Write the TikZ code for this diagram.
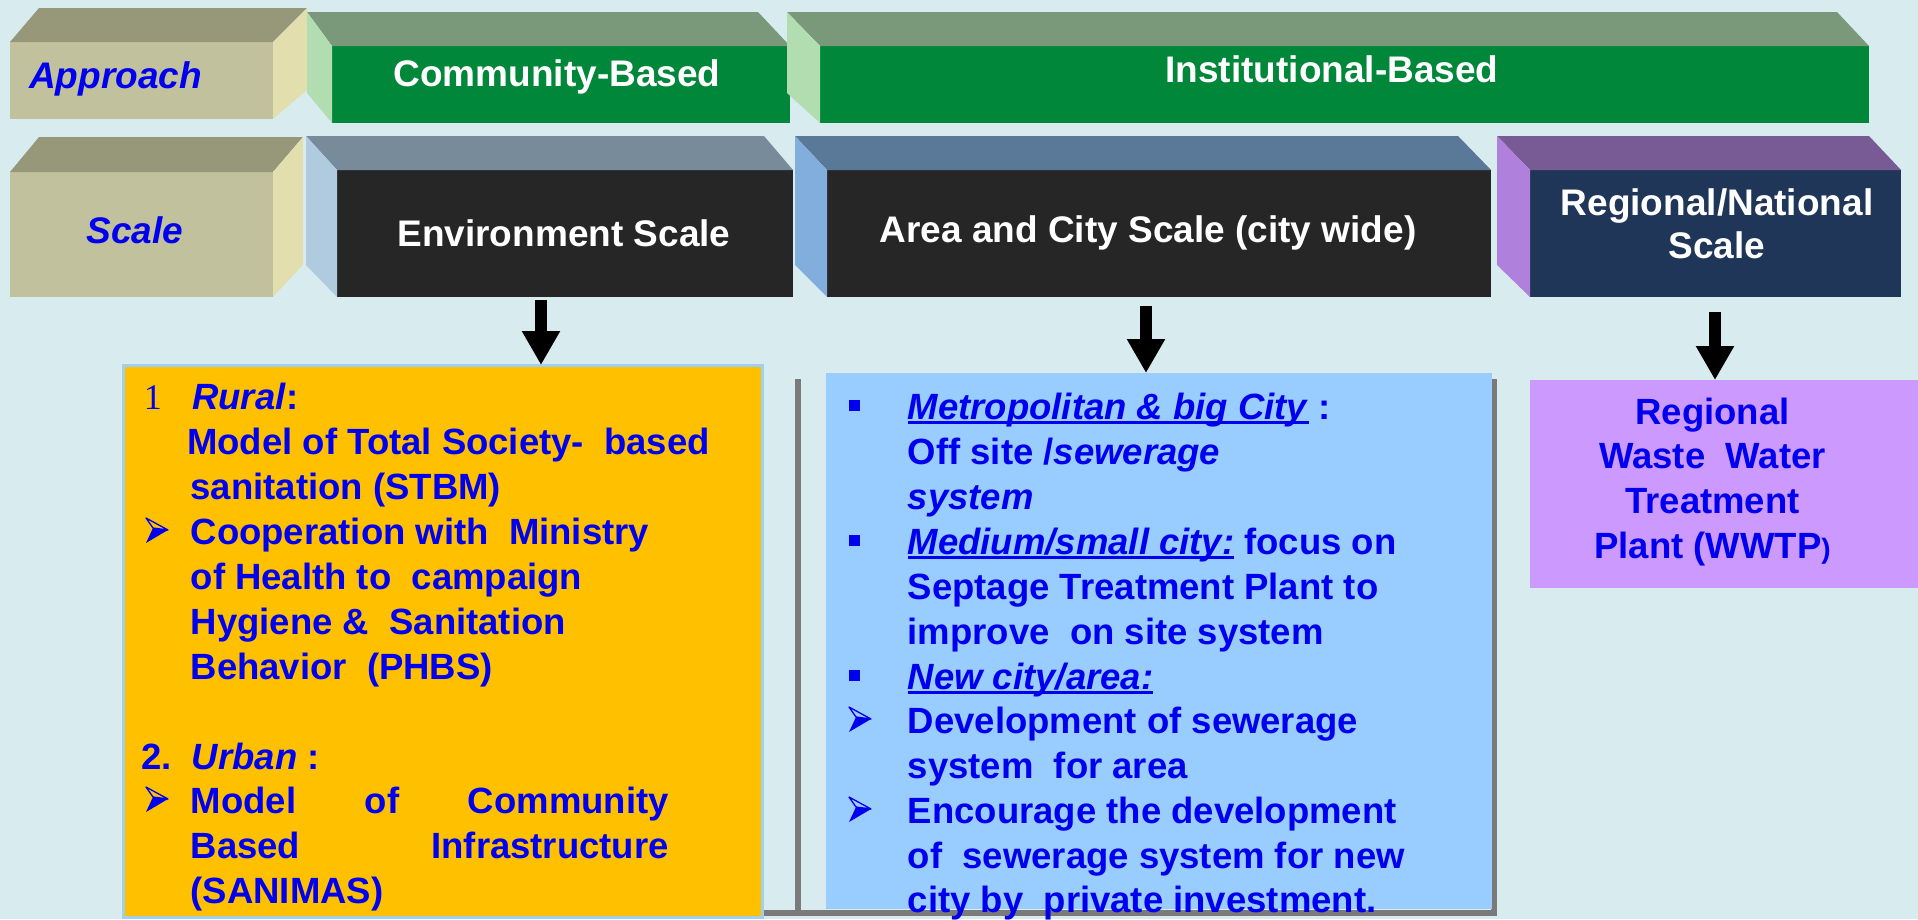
\documentclass[tikz,border=0pt]{standalone}
\usepackage{fontspec}
\setmainfont{Liberation Sans}
\newfontfamily\serifone{Liberation Serif}
\usetikzlibrary{arrows.meta}
\definecolor{bgc}{RGB}{216,236,240}
\definecolor{txtblue}{RGB}{0,0,238}
\definecolor{olvF}{RGB}{194,193,157}
\definecolor{olvT}{RGB}{151,151,122}
\definecolor{olvS}{RGB}{226,222,174}
\definecolor{grnF}{RGB}{0,135,58}
\definecolor{grnT}{RGB}{122,152,122}
\definecolor{grnS}{RGB}{178,221,176}
\definecolor{drkF}{RGB}{38,38,38}
\definecolor{envT}{RGB}{120,139,154}
\definecolor{envS}{RGB}{176,202,223}
\definecolor{areaT}{RGB}{90,120,151}
\definecolor{areaS}{RGB}{130,174,221}
\definecolor{regF}{RGB}{31,54,88}
\definecolor{regT}{RGB}{120,90,149}
\definecolor{regS}{RGB}{176,128,221}
\definecolor{orgF}{RGB}{255,192,0}
\definecolor{bluF}{RGB}{153,204,255}
\definecolor{purF}{RGB}{204,153,255}
\definecolor{shd}{RGB}{122,122,122}
\definecolor{orgB}{RGB}{160,208,240}
\newsavebox\ulbox
\newcommand\myul[1]{\sbox\ulbox{#1}\rlap{\rule[-5pt]{\wd\ulbox}{3pt}}\usebox\ulbox}
\newcommand\hdfont{\fontsize{37}{44}\selectfont\bfseries}
\newcommand\bdfont{\fontsize{36.5}{45}\selectfont\bfseries}
\tikzset{
  face/.style={inner sep=0pt, outer sep=0pt, anchor=north west, draw=none},
  hdw/.style={font=\hdfont, text=white, inner sep=0pt, anchor=base},
  hdb/.style={font=\hdfont\itshape, text=txtblue, inner sep=0pt},
  ln/.style={font=\bdfont, text=txtblue, inner sep=0pt, anchor=base west},
  lnc/.style={font=\bdfont, text=txtblue, inner sep=0pt, anchor=base},
  bigarrow/.style={draw=black, line width=12pt, -{Triangle[width=36pt,length=34pt]}},
  arrbul/.pic={
    \fill[txtblue] (7,10) -- (22,12) -- (0,25) -- cycle;
    \draw[txtblue, line width=1.3pt, line join=round] (0,0) -- (22,12) -- (7,10) -- cycle;
  },
  sqbul/.style={fill=txtblue, draw=none}
}
\begin{document}
\begin{tikzpicture}[x=1pt,y=-1pt]
\useasboundingbox (0,0) rectangle (1918,919);
\fill[bgc] (0,0) rectangle (1918,919);

% ---------- Approach box ----------
\node[face, fill=olvF, minimum width=263pt, minimum height=77pt] (apF) at (10,42) {};
\fill[olvT] (10,42) -- (39,8) -- (307,8) -- (273,42) -- cycle;
\fill[olvS] (273,42) -- (307,8) -- (307,90) -- (273,119) -- cycle;
\node[hdb, anchor=base west] (apT) at (29,88) {Approach};

% ---------- Scale box ----------
\node[face, fill=olvF, minimum width=263pt, minimum height=125pt] (scF) at (10,172) {};
\fill[olvT] (10,172) -- (39,137) -- (303,137) -- (273,172) -- cycle;
\fill[olvS] (273,172) -- (303,137) -- (303,265) -- (273,297) -- cycle;
\node[hdb, anchor=base] (scT) at (135,243) {Scale};

% ---------- Community-Based ----------
\node[face, fill=grnF, minimum width=458pt, minimum height=77pt] (cbF) at (332,46) {};
\fill[grnT] (332,46) -- (307,12) -- (758,12) -- (790,46) -- cycle;
\fill[grnS] (307,12) -- (332,46) -- (332,123) -- (307,93) -- cycle;
\node[hdw] (cbT) at (557,86) {Community-Based};

% ---------- Institutional-Based ----------
\node[face, fill=grnF, minimum width=1049pt, minimum height=77pt] (ibF) at (820,46) {};
\fill[grnT] (820,46) -- (787,12) -- (1837,12) -- (1869,46) -- cycle;
\fill[grnS] (787,12) -- (820,46) -- (820,123) -- (787,93) -- cycle;
\node[hdw] (ibT) at (1332,82) {Institutional-Based};

% ---------- Environment Scale ----------
\node[face, fill=drkF, minimum width=456pt, minimum height=127pt] (esF) at (337,170) {};
\fill[envT] (337,170) -- (306,136) -- (764,136) -- (793,170) -- cycle;
\fill[envS] (306,136) -- (337,170) -- (337,297) -- (306,265) -- cycle;
\node[hdw] (esT) at (564,246) {Environment Scale};

% ---------- Area and City Scale ----------
\node[face, fill=drkF, minimum width=664pt, minimum height=127pt] (acF) at (827,170) {};
\fill[areaT] (827,170) -- (795,136) -- (1458,136) -- (1491,170) -- cycle;
\fill[areaS] (795,136) -- (827,170) -- (827,297) -- (795,265) -- cycle;
\node[hdw] (acT) at (1148,242) {Area and City Scale (city wide)};

% ---------- Regional/National Scale ----------
\node[face, fill=regF, minimum width=371pt, minimum height=127pt] (rnF) at (1530,170) {};
\fill[regT] (1530,170) -- (1497,136) -- (1869,136) -- (1901,170) -- cycle;
\fill[regS] (1497,136) -- (1530,170) -- (1530,297) -- (1497,265) -- cycle;
\node[hdw] (rnT1) at (1717,215) {Regional/National};
\node[hdw] (rnT2) at (1717,258) {Scale};

% ---------- gray frame behind blue box ----------
\draw[shd, line width=6pt] (798,379) -- (798,913);
\draw[shd, line width=6pt] (763,913) -- (1494,913) -- (1494,379);

% ---------- lower boxes ----------
\node[face, fill=orgF, draw=orgB, line width=3pt, minimum width=639pt, minimum height=552pt] (orange) at (123,365) {};
\node[face, fill=bluF, minimum width=666pt, minimum height=536pt] (blue) at (826,373) {};
\node[face, fill=purF, minimum width=400pt, minimum height=208pt] (purple) at (1530,380) {};

% ---------- arrows ----------
\coordinate (a1) at (541,300);
\coordinate (a2) at (1146,306);
\coordinate (a3) at (1715,312);
\draw[bigarrow] (a1) -- (a1 |- orange.north);
\draw[bigarrow] (a2) -- (a2 |- blue.north);
\draw[bigarrow] (a3) -- (a3 |- purple.north);

% ---------- orange box text ----------
\node[inner sep=0pt, anchor=base west, text=txtblue, font=\fontsize{36}{45}\selectfont\serifone] (o1n) at (143.6,409) {1};
\node[ln] (o1) at (192,409) {\textit{Rural}:};
\node[ln] (o2) at (187,454) {Model of Total Society-\ \ based};
\node[ln] (o3) at (190.5,499) {sanitation (STBM)};
\pic at (146,518) {arrbul};
\node[ln] (o4) at (190.5,544) {Cooperation with\ \ Ministry};
\node[ln] (o5) at (190.5,589) {of Health to\ \ campaign};
\node[ln] (o6) at (190.5,634) {Hygiene \&\ \ Sanitation};
\node[ln] (o7) at (190.5,679) {Behavior\ \ (PHBS)};
\node[ln] (o8) at (141,769) {2.\ \ \textit{Urban} :};
\pic at (146,787) {arrbul};
\node[ln] (o9) at (190.5,813) {\hbox to 478pt{Model\hfill of\hfill Community}};
\node[ln] (o10) at (190.5,858) {\hbox to 478pt{Based\hfill Infrastructure}};
\node[ln] (o11) at (190.5,903) {(SANIMAS)};

% ---------- blue box text ----------
\fill[sqbul] (849,400) rectangle (860,411);
\node[ln] (b1) at (907.6,419) {\myul{\textit{Metropolitan \& big City}} :};
\node[ln] (b2) at (907.6,464) {Off site /\textit{sewerage}};
\node[ln] (b3) at (907.6,509) {\textit{system}};
\fill[sqbul] (849,535) rectangle (860,546);
\node[ln] (b4) at (907.6,554) {\myul{\textit{Medium/small city:}} focus on};
\node[ln] (b5) at (907.6,599) {Septage Treatment Plant to};
\node[ln] (b6) at (907.6,644) {improve\ \ on site system};
\fill[sqbul] (849,670) rectangle (860,681);
\node[ln] (b7) at (907.6,689) {\myul{\textit{New city/area:}}};
\pic at (849,707) {arrbul};
\node[ln] (b8) at (907.6,733) {Development of sewerage};
\node[ln] (b9) at (907.6,778) {system\ \ for area};
\pic at (849,797) {arrbul};
\node[ln] (b10) at (907.6,823) {Encourage the development};
\node[ln] (b11) at (907.6,868) {of\ \ sewerage system for new};
\node[ln] (b12) at (907.6,912) {city by\ \ private investment.};

% ---------- purple box text ----------
\node[lnc] (p1) at (1712.5,424) {Regional};
\node[lnc] (p2) at (1712.5,468) {Waste\ \ Water};
\node[lnc] (p3) at (1712.5,513) {Treatment};
\node[lnc] (p4) at (1712.5,558) {Plant (WWTP{\fontsize{28}{28}\selectfont )}};
\end{tikzpicture}
\end{document}
